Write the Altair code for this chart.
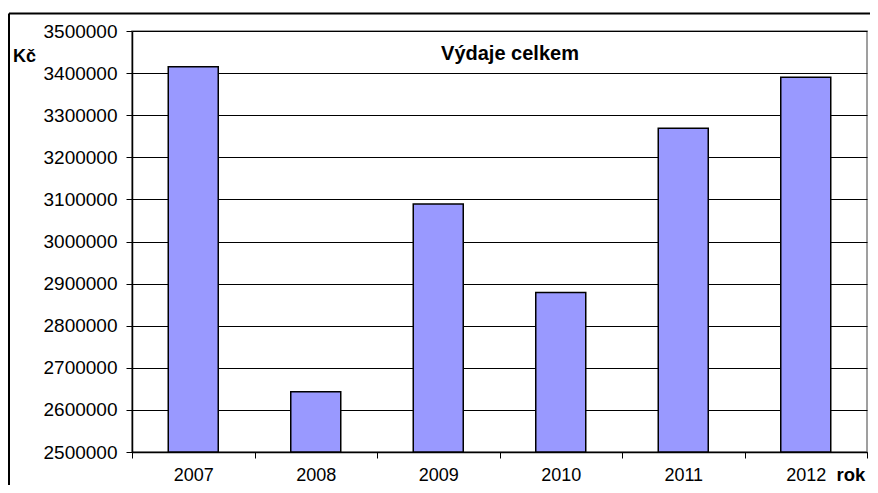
import altair as alt
import pandas as pd

years = ["2007", "2008", "2009", "2010", "2011", "2012"]
values = [3415000, 2643000, 3089000, 2879000, 3269000, 3390000]
y_ticks = [2500000, 2600000, 2700000, 2800000, 2900000, 3000000,
           3100000, 3200000, 3300000, 3400000, 3500000]
chart_title = ["Výdaje celkem"]
y_unit = ["Kč"]
x_unit = ["rok"]

df = pd.DataFrame({"rok": years, "vydaje": values})

W, H = 735, 421
FONT = "Liberation Sans"

bars = alt.Chart(df).mark_bar(
    size=50, color="#9999FF", stroke="#000000", strokeWidth=1.5
).encode(
    x=alt.X(
        "rok:N", sort=years,
        scale=alt.Scale(paddingInner=0, paddingOuter=0),
        axis=alt.Axis(
            title=None, labelAngle=0, tickBand="extent", tickSize=6,
            tickColor="#000000", tickWidth=1, domainColor="#000000", domainWidth=1.5,
            labelFont=FONT, labelFontSize=18, labelColor="#000000",
            labelPadding=8, grid=False,
        ),
    ),
    y=alt.Y(
        "vydaje:Q",
        scale=alt.Scale(domain=[2500000, 3500000], zero=False, nice=False),
        axis=alt.Axis(
            title=None, values=y_ticks, format="d", tickSize=6,
            tickColor="#000000", tickWidth=1, domainColor="#000000", domainWidth=1.5,
            labelFont=FONT, labelFontSize=19, labelColor="#000000", labelPadding=9,
            grid=True, gridColor="#000000", gridWidth=1,
        ),
    ),
    y2=alt.datum(2500000),
)

title_mark = alt.Chart(pd.DataFrame({"t": chart_title})).mark_text(
    font=FONT, fontSize=20, fontWeight="bold", align="center",
    baseline="alphabetic", color="#000000"
).encode(text="t:N", x=alt.value(378), y=alt.value(28.5))

kc_mark = alt.Chart(pd.DataFrame({"t": y_unit})).mark_text(
    font=FONT, fontSize=18, fontWeight="bold", align="left",
    baseline="alphabetic", color="#000000"
).encode(text="t:N", x=alt.value(-119), y=alt.value(30.7))

rok_mark = alt.Chart(pd.DataFrame({"t": x_unit})).mark_text(
    font=FONT, fontSize=18.5, fontWeight="bold", align="center",
    baseline="alphabetic", color="#000000"
).encode(text="t:N", x=alt.value(719), y=alt.value(450))

frame_top = alt.Chart(pd.DataFrame({"t": [0]})).mark_rule(
    color="#000000", strokeWidth=2
).encode(x=alt.value(-123), x2=alt.value(760), y=alt.value(-17.5))

frame_left = alt.Chart(pd.DataFrame({"t": [0]})).mark_rule(
    color="#000000", strokeWidth=2
).encode(x=alt.value(-123), y=alt.value(-17.5), y2=alt.value(480))

chart = alt.layer(
    bars, title_mark, kc_mark, rok_mark, frame_top, frame_left
).properties(
    width=W, height=H,
    autosize=alt.AutoSizeParams(type="none"),
    padding={"left": 124, "top": 23, "right": 3, "bottom": 33},
    background="#ffffff",
).configure_view(
    stroke="#808080", strokeWidth=1.5
)

chart.save("out.html", embed_options={"renderer": "svg", "actions": False})
